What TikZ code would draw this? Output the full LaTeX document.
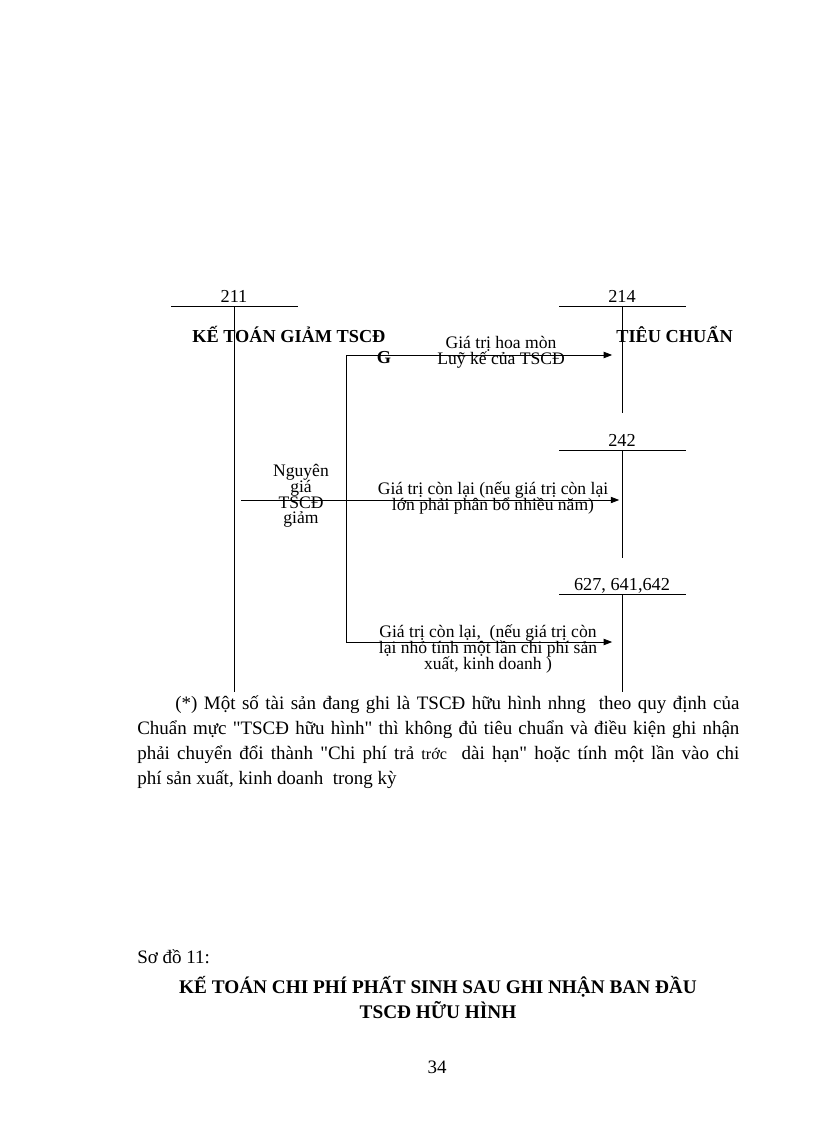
\documentclass[tikz,border=0pt]{standalone}
\usepackage{fontspec}
\setmainfont{Liberation Serif}[Ligatures=TeXOff]
\usetikzlibrary{arrows.meta,calc}
\newcommand\tightlbl{\fontsize{12.5}{11.2}\selectfont\lineskiplimit -100pt\relax}

\begin{document}
\begin{tikzpicture}[
  x=0.025cm,y=-0.025cm,
  acct/.style ={font=\fontsize{13}{14}\selectfont,inner sep=0pt},
  tline/.style={line width=0.6pt},
  flow/.style ={line width=0.6pt,-{Triangle[length=6pt,width=4.5pt]}},
  lbl/.style  ={font=\tightlbl,align=center,inner sep=0pt},
  hdr/.style  ={font=\fontsize{13}{16}\selectfont\bfseries,inner sep=0pt},
  body/.style ={font=\fontsize{13.5}{17.9}\selectfont,inner sep=0pt}
]
\useasboundingbox (0,0) rectangle (816,1123);

% T accounts
\foreach \nm/\px/\py/\pb/\txt in {a211/234/306/692/211,
                                  a214/622/306/413/214,
                                  a242/622/450/558/242,
                                  a627/622/594/692/{627, 641,642}}{
  \node[acct,anchor=base] (\nm) at (\px,\py-4) {\txt};
  \coordinate (\nm-top) at (\px,\py);
  \coordinate (\nm-bot) at (\px,\pb);
  \draw[tline] (\px-63,\py) -- (\px+64,\py);
  \draw[tline] (\nm-top) -- (\nm-bot);
}

% heading (partly hidden in the source)
\node[hdr,anchor=base west] (hleft)  at (192,342) {KẾ TOÁN GIẢM TSCĐ};
\node[hdr,anchor=base east] (hright) at (733,342) {TIÊU CHUẨN};
\node[hdr,anchor=base]      (hg)     at (384,363) {G};

% flows
\coordinate (src)   at (241,500);
\coordinate (brtop) at (346,355);
\coordinate (brbot) at (346,642);
\draw[tline] (brtop) -- (brbot);
\draw[flow,shorten >=7] (brtop) -- (a214-top |- brtop);
\draw[flow,shorten >=2] (src) -- (a242-top |- src);
\draw[flow,shorten >=7] (brbot) -- (a627-top |- brbot);

% flow labels
\node[lbl] (l214) at (501,352) {Giá trị hoa mòn\\Luỹ kế của TSCĐ};
\node[lbl] (lsrc) at (301,496) {Nguyên\\giá\\TSCĐ\\giảm};
\node[lbl] (l242) at (493,498)
  {Giá trị còn lại (nếu giá trị còn lại\\lớn phải phân bổ nhiều năm)};
\node[lbl] (l627) at (488,649)
  {Giá trị còn lại,\ \ (nếu giá trị còn\\lại nhỏ tính một lần chi phí sản\\xuất, kinh doanh )};

% note
\node[body,anchor=north west,text width=15.05cm,align=justify] (note) at (137,695)
  {\parindent=0.95cm\indent(*) Một số tài sản đang ghi là TSCĐ hữu hình nhng\ \ theo quy định của\linebreak
   Chuẩn mực "TSCĐ hữu hình" thì không đủ tiêu chuẩn và điều kiện ghi nhận\linebreak
   phải chuyển đổi thành "Chi phí trả {\fontsize{11.5}{17.9}\selectfont trớc}\ \ dài hạn" hoặc tính một lần vào chi\linebreak
   phí sản xuất, kinh doanh\ \ trong kỳ};

% next diagram caption
\node[body,anchor=base west] (cap) at (137,963) {Sơ đồ 11:};
\node[hdr,font=\fontsize{13.7}{16}\selectfont\bfseries,anchor=base] (t1) at (438,993)
  {KẾ TOÁN CHI PHÍ PHẤT SINH SAU GHI NHẬN BAN ĐẦU};
\node[hdr,font=\fontsize{13.7}{16}\selectfont\bfseries,anchor=base] (t2) at (438,1018)
  {TSCĐ HỮU HÌNH};
\node[body,anchor=base] (pg) at (437,1073) {34};
\end{tikzpicture}
\end{document}
